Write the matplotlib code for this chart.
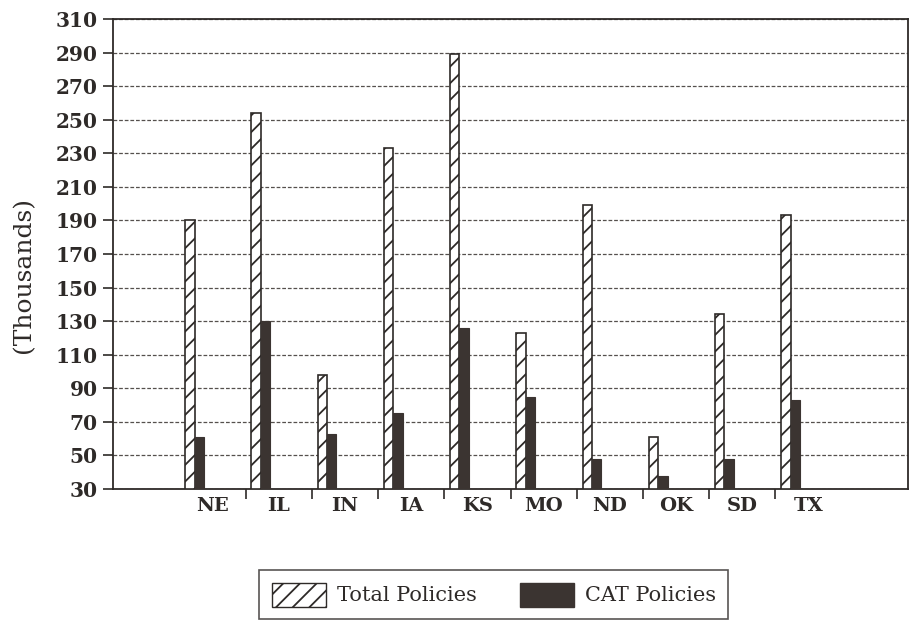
import numpy as np
import matplotlib
matplotlib.use("Agg")
import matplotlib.pyplot as plt
from matplotlib.patches import Patch

# Datos (miles de pólizas)
estados = ["NE", "IL", "IN", "IA", "KS", "MO", "ND", "OK", "SD", "TX"]
total_polizas = [190, 254, 98, 233, 289, 123, 199, 61, 134, 193]
cat_polizas = [61, 130, 63, 75, 126, 85, 48, 38, 48, 83]
y_ticks = list(range(30, 311, 20))

TINTA = "#2e2a28"
OSCURO = "#3b3431"
plt.rcParams["font.family"] = ["DejaVu Serif"]
plt.rcParams["hatch.linewidth"] = 1.3
plt.rcParams["hatch.color"] = TINTA

fig = plt.figure(figsize=(9.13, 6.22), dpi=100)
ax = fig.add_axes([0.1238, 0.2138, 0.8707, 0.7557])

x = np.arange(1, len(estados) + 1)
ancho = 0.14
ax.bar(x - 0.41, np.array(total_polizas) - 30, width=ancho, bottom=30,
       align="edge", facecolor="white", edgecolor=TINTA, hatch="//",
       linewidth=1.2, zorder=3)
ax.bar(x - 0.41 + ancho, np.array(cat_polizas) - 30, width=ancho, bottom=30,
       align="edge", facecolor=OSCURO, edgecolor=OSCURO, linewidth=0.8,
       zorder=3)

ax.set_xlim(-0.5, 11.5)
ax.set_ylim(30, 310)
ax.set_yticks(y_ticks)
ax.set_xticks(x)
ax.set_xticklabels(estados)
ax.set_xticks(x[:-1] + 0.5, minor=True)
ax.tick_params(axis="x", which="major", length=0, pad=6, labelsize=14,
               colors=TINTA)
ax.tick_params(axis="x", which="minor", length=7, width=1.2, color=TINTA)
ax.tick_params(axis="y", length=7, width=1.2, color=TINTA, labelsize=14.5,
               labelcolor=TINTA, pad=4)
for lbl in ax.get_yticklabels() + ax.get_xticklabels():
    lbl.set_fontweight("bold")

ax.yaxis.grid(True, linestyle=(0, (3, 1.5)), color="#55504d", linewidth=0.9,
              zorder=0)
ax.set_axisbelow(True)
for lado in ax.spines.values():
    lado.set_color(TINTA)
    lado.set_linewidth(1.3)

ax.set_ylabel("(Thousands)", fontsize=18, color=TINTA)
ax.yaxis.set_label_coords(-0.098, 0.455)

handles = [Patch(facecolor="white", edgecolor=TINTA, hatch="//",
                 label="Total Policies"),
           Patch(facecolor=OSCURO, edgecolor=OSCURO, label="CAT Policies")]
leg = fig.legend(handles=handles, loc="upper center",
                 bbox_to_anchor=(0.541, 0.0836), ncol=2, fontsize=15,
                 frameon=True, fancybox=False, handlelength=2.6,
                 handleheight=1.4, handletextpad=0.5, columnspacing=2.1,
                 borderpad=0.6, borderaxespad=0)
leg.get_frame().set_edgecolor(TINTA)
leg.get_frame().set_linewidth(1.2)
for t in leg.get_texts():
    t.set_color(TINTA)

plt.savefig("out.png", dpi=100)
plt.close()
